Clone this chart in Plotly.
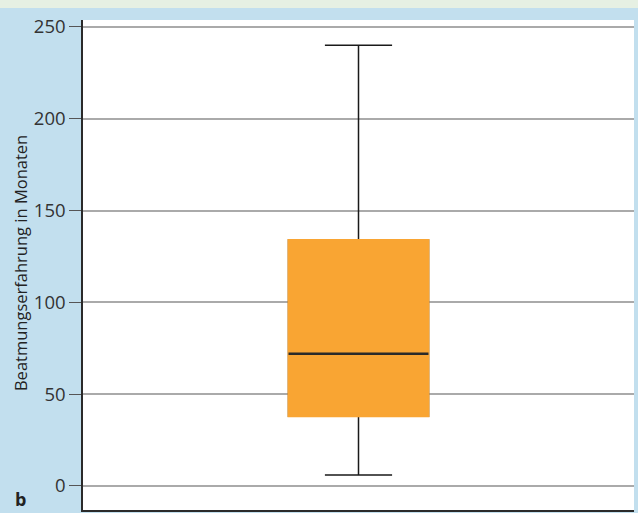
import plotly.graph_objects as go

# Data
group = [0]
lower_whisker = [6]
q1_vals = [38]
median_vals = [72]
q3_vals = [134]
upper_whisker = [240]
tick_vals = [0, 50, 100, 150, 200, 250]
y_title = "Beatmungserfahrung in Monaten"
panel_label = "b"

ORANGE = "#f9a533"
BOX_W = 0.254

fig = go.Figure()
# full box with whiskers (black lines)
fig.add_trace(go.Box(x=group, q1=q1_vals, median=median_vals, q3=q3_vals,
                     lowerfence=lower_whisker, upperfence=upper_whisker,
                     fillcolor=ORANGE, line=dict(color="#1a1a1a", width=1.5),
                     width=BOX_W, whiskerwidth=0.48, boxpoints=False,
                     hoverinfo="skip", showlegend=False))
# orange overlay to hide the box outline
fig.add_trace(go.Box(x=group, q1=q1_vals, median=q1_vals, q3=q3_vals,
                     lowerfence=q1_vals, upperfence=q3_vals,
                     fillcolor=ORANGE, line=dict(color=ORANGE, width=2),
                     width=BOX_W, whiskerwidth=0, boxpoints=False,
                     hoverinfo="skip", showlegend=False))
# median line
fig.add_trace(go.Box(x=group, q1=median_vals, median=median_vals, q3=median_vals,
                     lowerfence=median_vals, upperfence=median_vals,
                     fillcolor="rgba(0,0,0,0)", line=dict(color="#2a2a2a", width=2.5),
                     width=BOX_W, whiskerwidth=0, boxpoints=False,
                     hoverinfo="skip", showlegend=False))

fig.update_layout(
    width=638, height=513,
    margin=dict(l=83, r=4, t=20, b=3),
    paper_bgcolor="#c2dfee",
    plot_bgcolor="#ffffff",
    boxmode="overlay",
    font=dict(family="Open Sans, Noto Sans, sans-serif", color="#333333"),
    xaxis=dict(range=[-0.5, 0.5], showticklabels=False, showgrid=False, zeroline=False,
               showline=True, linecolor="#2a2a2a", linewidth=1.5, ticks="",
               fixedrange=True),
    yaxis=dict(range=[-13.1, 253.8], tickvals=tick_vals, showgrid=True,
               gridcolor="#aaaaaa", gridwidth=1.5, zeroline=False,
               showline=True, linecolor="#2a2a2a", linewidth=1.5,
               ticks="outside", ticklen=12, tickcolor="#555555", tickwidth=1.2,
               tickfont=dict(size=18.5, color="#333333")),
    shapes=[dict(type="rect", xref="paper", yref="paper", layer="above",
                 x0=-83/551, x1=1 + 4/551, y0=1 + 12/490, y1=1 + 21/490,
                 fillcolor="#e6f0e3", line=dict(width=0))],
    annotations=[
        dict(text=y_title, textangle=-90, xref="paper", yref="paper",
             x=-63/551, y=0.504, showarrow=False, xanchor="center", yanchor="middle",
             font=dict(size=16.5, color="#222222")),
        dict(text="<b>" + panel_label + "</b>", xref="paper", yref="paper",
             x=-70/551, y=-3/490, showarrow=False, xanchor="left", yanchor="bottom",
             font=dict(size=18, color="#222222")),
    ],
)

fig.write_html("out.html")
